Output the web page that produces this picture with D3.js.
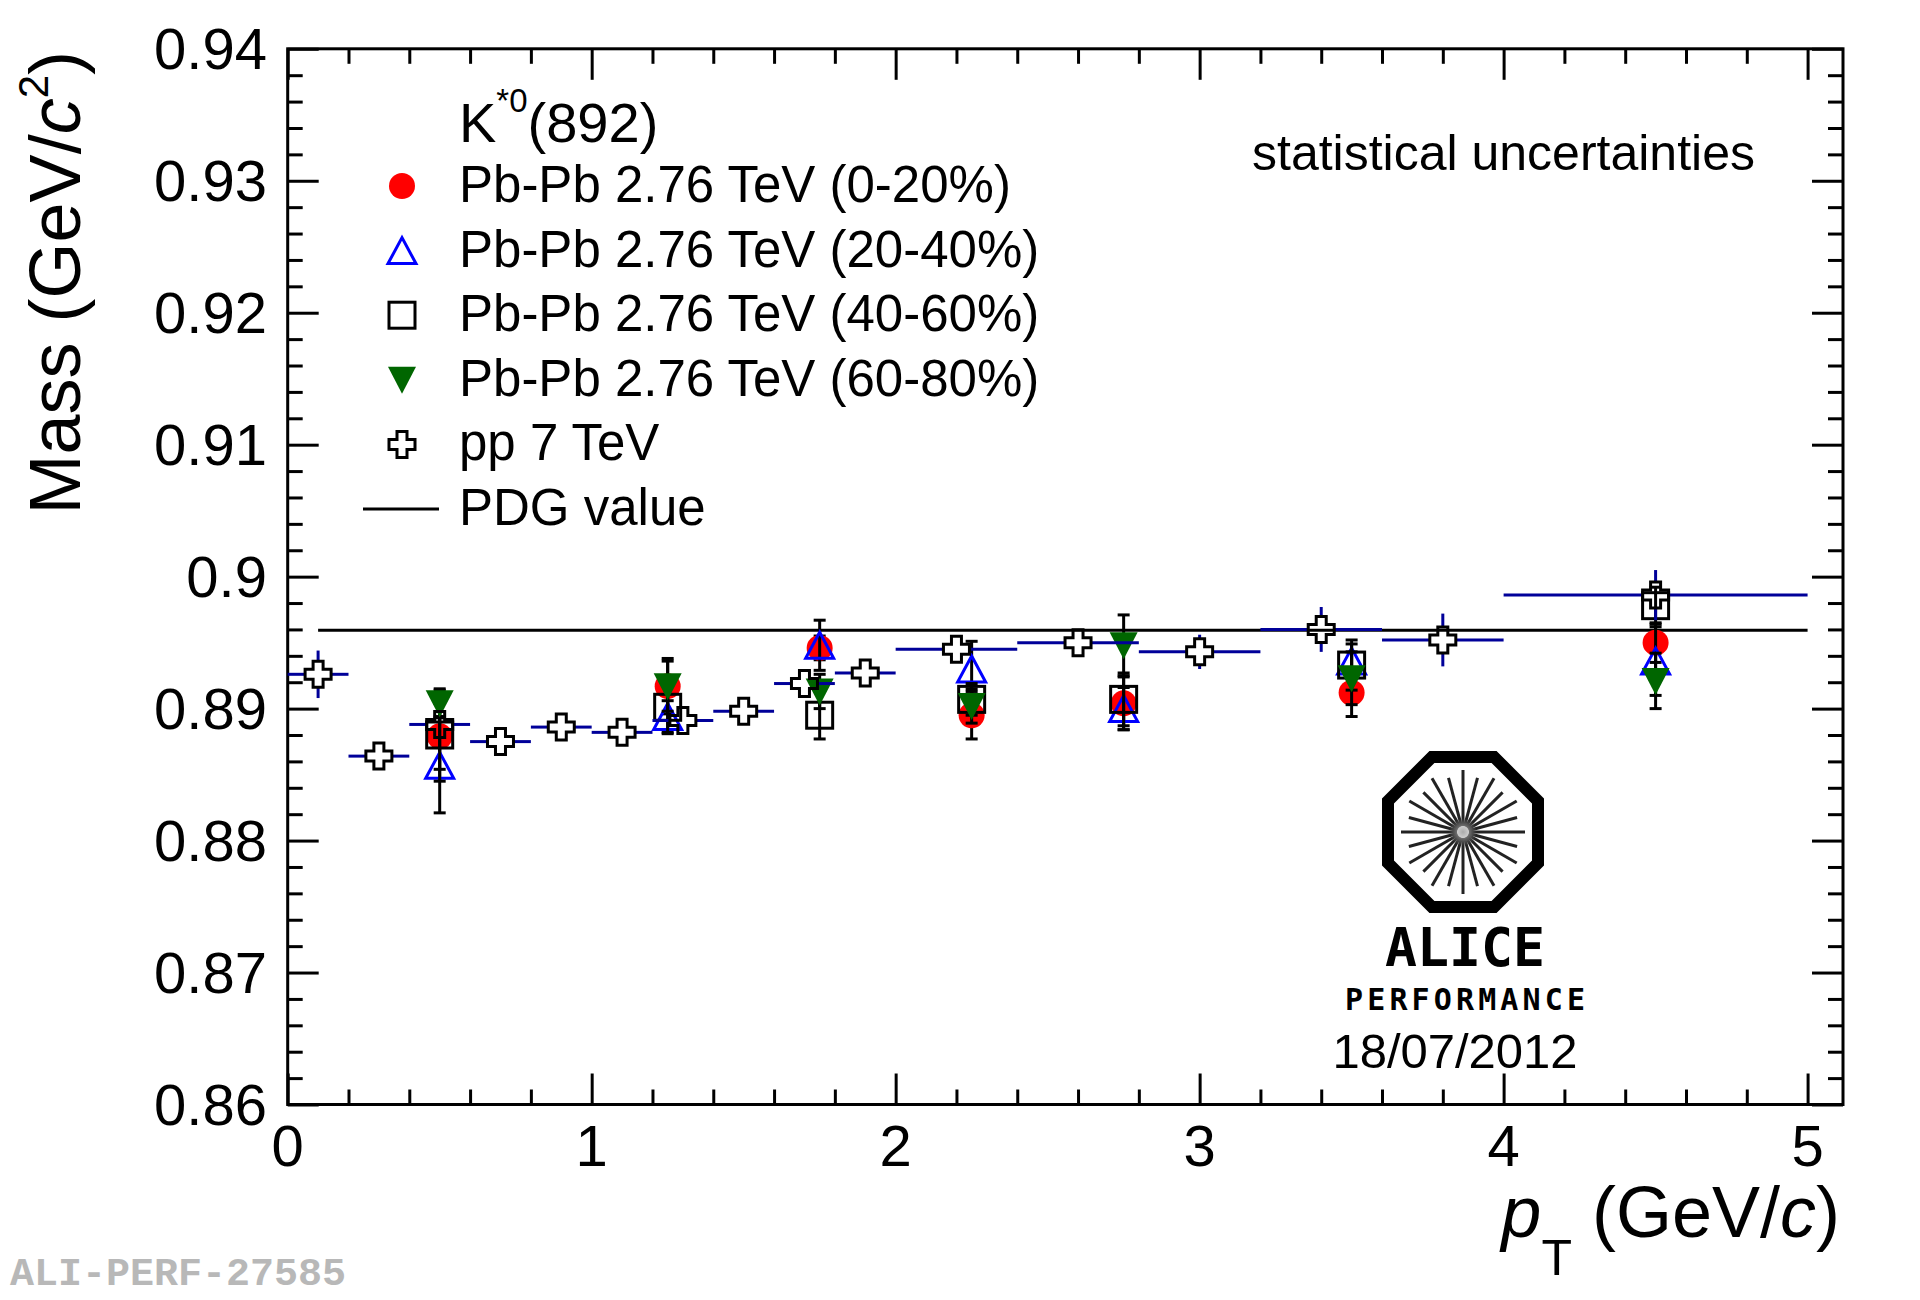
<!DOCTYPE html>
<html><head><meta charset="utf-8">
<script src="https://cdn.jsdelivr.net/npm/d3@7"></script>
<style>
html,body{margin:0;padding:0;background:#fff;}
svg{display:block;font-family:"Liberation Sans",Arial,Helvetica,sans-serif;}
</style></head>
<body><svg id="c" width="1920" height="1300"></svg>
<script>
// ---------------- data ----------------
const ptPbPb = [0.5, 1.25, 1.75, 2.25, 2.75, 3.5, 4.5];
const mass0_20  = [0.8879, 0.8917, 0.8946, 0.8895, 0.8904, 0.8912, 0.8950];
const err0_20   = [0.0025, 0.0021, 0.0009, 0.0018, 0.0020, 0.0018, 0.0015];
const mass20_40 = [0.8857, 0.8894, 0.8948, 0.8930, 0.8900, 0.8936, 0.8936];
const err20_40  = [0.0036, 0.0012, 0.0019, 0.0021, 0.0016, 0.0013, 0.0026];
const mass40_60 = [0.8880, 0.8901, 0.8895, 0.8907, 0.8907, 0.8933, 0.8978];
const err40_60  = [0.0035, 0.0020, 0.0018, 0.0012, 0.0020, 0.0019, 0.0014];
const mass60_80 = [0.8904, 0.8917, 0.8913, 0.8902, 0.8948, 0.8923, 0.8921];
const err60_80  = [0.0010, 0.0019, 0.0013, 0.0013, 0.0023, 0.0020, 0.0021];

const ppPt    = [0.1, 0.3, 0.5, 0.7, 0.9, 1.1, 1.3, 1.5, 1.7, 1.9, 2.2, 2.6, 3.0, 3.4, 3.8, 4.5];
const ppBinLo = [0.0, 0.2, 0.4, 0.6, 0.8, 1.0, 1.2, 1.4, 1.6, 1.8, 2.0, 2.4, 2.8, 3.2, 3.6, 4.0];
const ppBinHi = [0.2, 0.4, 0.6, 0.8, 1.0, 1.2, 1.4, 1.6, 1.8, 2.0, 2.4, 2.8, 3.2, 3.6, 4.0, 5.0];
const ppMass  = [0.8926, 0.8864, 0.8888, 0.8875, 0.8886, 0.8882, 0.8891, 0.8898, 0.8919, 0.8927, 0.8945, 0.8950, 0.8943, 0.8960, 0.8952, 0.8986];
const ppErr   = [0.0018, 0.0006, 0.0006, 0.0006, 0.0006, 0.0006, 0.0006, 0.0006, 0.0006, 0.0006, 0.0006, 0.0010, 0.0013, 0.0017, 0.0020, 0.0019];

const pdgMass = 0.89594;
const pdgRange = [0.1, 5.0];

const xTicks = [0, 1, 2, 3, 4, 5];
const xTickLabels = ["0", "1", "2", "3", "4", "5"];
const yTicks = [0.86, 0.87, 0.88, 0.89, 0.90, 0.91, 0.92, 0.93, 0.94];
const yTickLabels = ["0.86", "0.87", "0.88", "0.89", "0.9", "0.91", "0.92", "0.93", "0.94"];

const legendHeader = "K";
const legendLabels = ["Pb-Pb 2.76 TeV (0-20%)", "Pb-Pb 2.76 TeV (20-40%)", "Pb-Pb 2.76 TeV (40-60%)", "Pb-Pb 2.76 TeV (60-80%)", "pp 7 TeV", "PDG value"];

// ---------------- layout ----------------
const svg = d3.select("#c");
const L = 287.7, R = 1843, T = 48.8, B = 1104.5;
const x = d3.scaleLinear().domain([0, 5.1165]).range([L, R]);
const y = d3.scaleLinear().domain([0.86, 0.94]).range([B, T]);

const RED = "#ff0000", BLUE = "#0000ff", GREEN = "#006600", NAVY = "#000099";
const SW = 3;

// ---------------- axes (ticks inward, on all four sides) ----------------
const xMinor = d3.range(0, 5.1, 0.2).map(v => +v.toFixed(2)).filter(v => !xTicks.includes(v));
const yMinor = d3.range(0.86, 0.9401, 0.002).map(v => +v.toFixed(3)).filter(v => !yTicks.some(t => Math.abs(t - v) < 1e-6));

function styleAxis(g) {
  g.select(".domain").remove();
  g.selectAll(".tick line").attr("stroke", "#000").attr("stroke-width", SW);
  g.selectAll(".tick text").remove();
}
[[d3.axisBottom, B], [d3.axisTop, T]].forEach(([ax, pos]) => {
  svg.append("g").attr("transform", `translate(0,${pos})`)
    .call(ax(x).tickValues(xTicks).tickSize(-31)).call(styleAxis);
  svg.append("g").attr("transform", `translate(0,${pos})`)
    .call(ax(x).tickValues(xMinor).tickSize(-15)).call(styleAxis);
});
[[d3.axisLeft, L], [d3.axisRight, R]].forEach(([ax, pos]) => {
  svg.append("g").attr("transform", `translate(${pos},0)`)
    .call(ax(y).tickValues(yTicks).tickSize(-31)).call(styleAxis);
  svg.append("g").attr("transform", `translate(${pos},0)`)
    .call(ax(y).tickValues(yMinor).tickSize(-15)).call(styleAxis);
});
svg.append("rect").attr("x", L).attr("y", T).attr("width", R - L).attr("height", B - T)
  .attr("fill", "none").attr("stroke", "#000").attr("stroke-width", SW);

// tick labels
svg.append("g").selectAll("text").data(xTicks).join("text")
  .attr("x", d => x(d)).attr("y", 1166).attr("text-anchor", "middle")
  .attr("font-size", 58).text((d, i) => xTickLabels[i]);
svg.append("g").selectAll("text").data(yTicks).join("text")
  .attr("x", 267).attr("y", d => y(d) + 20.5).attr("text-anchor", "end")
  .attr("font-size", 58).text((d, i) => yTickLabels[i]);

// axis titles
const yt = svg.append("text").attr("transform", "translate(80,51) rotate(-90)")
  .attr("text-anchor", "end").attr("font-size", 72);
yt.append("tspan").text("Mass (GeV/");
yt.append("tspan").attr("font-style", "italic").text("c");
yt.append("tspan").attr("font-size", 42).attr("dy", -32).text("2");
yt.append("tspan").attr("dy", 32).text(")");

const xt = svg.append("text").attr("x", 1840).attr("y", 1237)
  .attr("text-anchor", "end").attr("font-size", 72);
xt.append("tspan").attr("font-style", "italic").text("p");
xt.append("tspan").attr("font-size", 50).attr("dy", 38).text("T");
xt.append("tspan").attr("dy", -38).text(" (GeV/");
xt.append("tspan").attr("font-style", "italic").text("c");
xt.append("tspan").text(")");

// ---------------- markers ----------------
function marker(g, type, cx, cy) {
  if (type === "circle") {
    g.append("circle").attr("cx", cx).attr("cy", cy).attr("r", 13).attr("fill", RED);
  } else if (type === "tri") {
    g.append("path").attr("d", `M${cx},${cy - 13}L${cx - 14},${cy + 13}L${cx + 14},${cy + 13}Z`)
      .attr("fill", "none").attr("stroke", BLUE).attr("stroke-width", SW);
  } else if (type === "square") {
    g.append("rect").attr("x", cx - 13).attr("y", cy - 13).attr("width", 26).attr("height", 26)
      .attr("fill", "none").attr("stroke", "#000").attr("stroke-width", SW);
  } else if (type === "tridown") {
    g.append("path").attr("d", `M${cx},${cy + 14}L${cx - 14},${cy - 13}L${cx + 14},${cy - 13}Z`)
      .attr("fill", GREEN);
  } else if (type === "cross") {
    const s = 13, a = 5;
    g.append("path").attr("d",
      `M${cx - a},${cy - s}H${cx + a}V${cy - a}H${cx + s}V${cy + a}H${cx + a}V${cy + s}H${cx - a}V${cy + a}H${cx - s}V${cy - a}H${cx - a}Z`)
      .attr("fill", "none").attr("stroke", "#000").attr("stroke-width", SW);
  }
}

const plot = svg.append("g");
// PDG line
plot.append("line").attr("x1", x(pdgRange[0])).attr("x2", x(pdgRange[1]))
  .attr("y1", y(pdgMass)).attr("y2", y(pdgMass)).attr("stroke", "#000").attr("stroke-width", SW);

const pbSeries = [
  {m: mass0_20, e: err0_20, type: "circle"},
  {m: mass20_40, e: err20_40, type: "tri"},
  {m: mass40_60, e: err40_60, type: "square"},
  {m: mass60_80, e: err60_80, type: "tridown"}
];
pbSeries.forEach(s => {
  const g = plot.append("g");
  ptPbPb.forEach((pt, i) => {
    const cx = x(pt), y1 = y(s.m[i] + s.e[i]), y2 = y(s.m[i] - s.e[i]);
    g.append("line").attr("x1", cx).attr("x2", cx).attr("y1", y1).attr("y2", y2)
      .attr("stroke", "#000").attr("stroke-width", SW);
    [y1, y2].forEach(yy => g.append("line").attr("x1", cx - 6).attr("x2", cx + 6)
      .attr("y1", yy).attr("y2", yy).attr("stroke", "#000").attr("stroke-width", SW));
  });
  ptPbPb.forEach((pt, i) => marker(g, s.type, x(pt), y(s.m[i])));
});

// pp points: bin-width horizontal bars, vertical errors with gap around marker
const gpp = plot.append("g");
const gap = 13.5;
ppPt.forEach((pt, i) => {
  const cx = x(pt), cy = y(ppMass[i]);
  const segs = [[x(ppBinLo[i]), cy, cx - gap, cy], [cx + gap, cy, x(ppBinHi[i]), cy]];
  const yt1 = y(ppMass[i] + ppErr[i]), yb1 = y(ppMass[i] - ppErr[i]);
  if (cy - yt1 > gap) { segs.push([cx, yt1, cx, cy - gap]); segs.push([cx, cy + gap, cx, yb1]); }
  segs.forEach(sg => gpp.append("line").attr("x1", sg[0]).attr("y1", sg[1]).attr("x2", sg[2]).attr("y2", sg[3])
    .attr("stroke", NAVY).attr("stroke-width", SW));
  marker(gpp, "cross", cx, cy);
});

// ---------------- legend ----------------
const hdr = svg.append("text").attr("x", 459).attr("y", 142).attr("font-size", 56);
hdr.append("tspan").text(legendHeader);
hdr.append("tspan").attr("font-size", 33).attr("dy", -30).text("*0");
hdr.append("tspan").attr("dy", 30).text("(892)");

const legBase = [202, 266.6, 331.2, 395.8, 460.4, 525];
const legTypes = ["circle", "tri", "square", "tridown", "cross", "line"];
legendLabels.forEach((lab, i) => {
  svg.append("text").attr("x", 459).attr("y", legBase[i]).attr("font-size", 51).text(lab);
  const cy = legBase[i] - 16;
  if (legTypes[i] === "line") {
    svg.append("line").attr("x1", 363).attr("x2", 439).attr("y1", cy).attr("y2", cy)
      .attr("stroke", "#000").attr("stroke-width", SW);
  } else {
    marker(svg, legTypes[i], 402, cy);
  }
});

svg.append("text").attr("x", 1755).attr("y", 170).attr("text-anchor", "end")
  .attr("font-size", 50).text("statistical uncertainties");

// ---------------- ALICE logo ----------------
const logo = svg.append("g").attr("transform", "translate(1463,832)");
const oct = d3.range(8).map(k => {
  const a = Math.PI / 8 + k * Math.PI / 4, r = 75 / Math.cos(Math.PI / 8);
  return [r * Math.cos(a), r * Math.sin(a)];
});
logo.append("path").attr("d", "M" + oct.map(p => p.join(",")).join("L") + "Z")
  .attr("fill", "#fff").attr("stroke", "#000").attr("stroke-width", 12);
const grad = svg.append("defs").append("radialGradient").attr("id", "lg");
grad.append("stop").attr("offset", "0%").attr("stop-color", "#aaa");
grad.append("stop").attr("offset", "100%").attr("stop-color", "#aaa").attr("stop-opacity", 0);
d3.range(24).forEach(k => {
  const a = k * Math.PI / 12, r1 = 6, r2 = (k % 2 === 0) ? 62 : 56;
  logo.append("line").attr("x1", r1 * Math.cos(a)).attr("y1", r1 * Math.sin(a))
    .attr("x2", r2 * Math.cos(a)).attr("y2", r2 * Math.sin(a))
    .attr("stroke", "#222").attr("stroke-width", 3);
});
logo.append("circle").attr("r", 14).attr("fill", "url(#lg)");
svg.append("text").attr("x", 1465).attr("y", 966).attr("text-anchor", "middle")
  .attr("font-family", "DejaVu Sans Mono").attr("font-weight", "bold").attr("font-size", 54)
  .attr("textLength", 160).attr("lengthAdjust", "spacingAndGlyphs").text("ALICE");
svg.append("text").attr("x", 1465).attr("y", 1010).attr("text-anchor", "middle")
  .attr("font-family", "DejaVu Sans Mono").attr("font-weight", "bold").attr("font-size", 30)
  .attr("textLength", 240).attr("lengthAdjust", "spacing").text("PERFORMANCE");
svg.append("text").attr("x", 1455).attr("y", 1068).attr("text-anchor", "middle")
  .attr("font-size", 49).text("18/07/2012");

svg.append("text").attr("x", 10).attr("y", 1285)
  .attr("font-family", "Liberation Mono, Courier New, monospace").attr("font-weight", "bold")
  .attr("font-size", 38).attr("fill", "#b8b8b8")
  .attr("textLength", 336).attr("lengthAdjust", "spacingAndGlyphs").text("ALI-PERF-27585");
</script></body></html>
